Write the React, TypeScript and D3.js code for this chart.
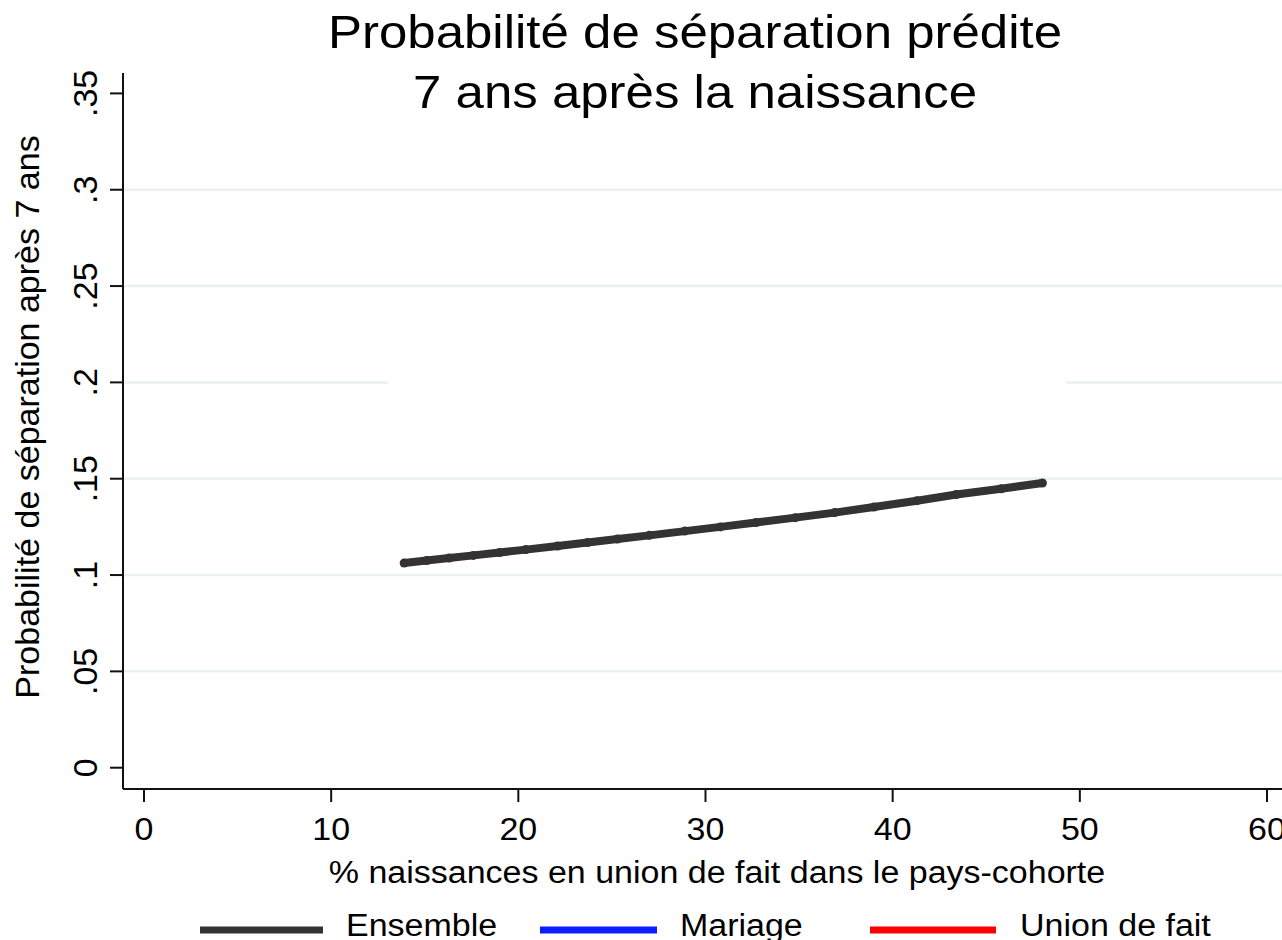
import * as d3 from "d3";
import React from "react";

// predicted probability, "Ensemble" curve
const pctUnion = [13.9, 15.1, 16.3, 17.6, 19.0, 20.4, 22.1, 23.7, 25.3, 27.0, 28.9, 30.8, 32.7, 34.8, 36.9, 39.0, 41.3, 43.4, 45.8, 48.0];
const probEnsemble = [0.1062, 0.1075, 0.1088, 0.1102, 0.1117, 0.1132, 0.1151, 0.1169, 0.1187, 0.1206, 0.1228, 0.125, 0.1273, 0.1298, 0.1324, 0.1353, 0.1386, 0.1418, 0.1448, 0.1478];

const xTicks = [0, 10, 20, 30, 40, 50, 60];
const yTicks = [0, 0.05, 0.1, 0.15, 0.2, 0.25, 0.3, 0.35];
const yTickLabels = ["0", ".05", ".1", ".15", ".2", ".25", ".3", ".35"];
const gridValues = [0.05, 0.1, 0.15, 0.2, 0.25, 0.3];

const legendItems = [
  { label: "Ensemble", color: "#333333" },
  { label: "Mariage", color: "#0a1eff" },
  { label: "Union de fait", color: "#ff0000" },
];

const W = 1282;
const H = 940;
const font = "'Liberation Sans', Arial, sans-serif";

const App = () => {
  const x = d3.scaleLinear().domain([0, 60]).range([144, 1267]);
  const y = d3.scaleLinear().domain([0, 0.35]).range([767.7, 93.4]);

  const left = 123;
  const top = 73;
  const bottom = 789;

  const pts = pctUnion.map((v, i) => [v, probEnsemble[i]] as [number, number]);
  const line = d3.line<[number, number]>()
    .x(d => x(d[0]))
    .y(d => y(d[1]));

  // legend positions
  const legendSamples = [[200, 323, 346], [540, 657, 680], [870, 996, 1020]];

  return (
    <svg width={W} height={H} style={{ position: "absolute", left: 0, top: 0, background: "#fff" }}>
      <rect x={0} y={0} width={W} height={H} fill="#fff" />

      {/* gridlines */}
      {gridValues.map(v => (
        <line key={v} x1={left} x2={W} y1={y(v)} y2={y(v)} stroke="#eaf1f2" strokeWidth={2.5} />
      ))}
      {/* hidden box covering part of .2 gridline */}
      <rect x={388} y={y(0.2) - 3} width={678} height={6} fill="#fff" />

      {/* axes */}
      <line x1={left} x2={left} y1={top} y2={bottom} stroke="#111" strokeWidth={2} />
      <line x1={left} x2={W} y1={bottom} y2={bottom} stroke="#111" strokeWidth={2} />

      {yTicks.map((t, i) => (
        <g key={t}>
          <line x1={left - 13} x2={left} y1={y(t)} y2={y(t)} stroke="#111" strokeWidth={2} />
          <text
            transform={`translate(97,${y(t)}) rotate(-90)`}
            textAnchor="middle"
            fontFamily={font}
            fontSize={34}
            fill="#000"
          >
            {yTickLabels[i]}
          </text>
        </g>
      ))}

      {xTicks.map(t => (
        <g key={t}>
          <line x1={x(t)} x2={x(t)} y1={bottom} y2={bottom + 13} stroke="#111" strokeWidth={2} />
          <text
            transform={`translate(${x(t)},840) scale(1,0.9)`}
            textAnchor="middle"
            fontFamily={font}
            fontSize={34}
            fill="#000"
          >
            {t}
          </text>
        </g>
      ))}

      {/* series */}
      <path d={line(pts) || ""} fill="none" stroke="#333333" strokeWidth={8} strokeLinecap="round" strokeLinejoin="round" />
      {pts.map((d, i) => (
        <circle key={i} cx={x(d[0])} cy={y(d[1])} r={4.5} fill="#333333" />
      ))}

      {/* titles */}
      <text transform="translate(695,48) scale(1,0.9)" textAnchor="middle" fontFamily={font} fontSize={51} fill="#000">
        Probabilité de séparation prédite
      </text>
      <text transform="translate(695,108) scale(1,0.9)" textAnchor="middle" fontFamily={font} fontSize={51} fill="#000">
        7 ans après la naissance
      </text>
      <text transform="translate(39,417) rotate(-90)" textAnchor="middle" fontFamily={font} fontSize={34} fill="#000">
        Probabilité de séparation après 7 ans
      </text>
      <text transform="translate(717,883) scale(1,0.9)" textAnchor="middle" fontFamily={font} fontSize={34} fill="#000">
        % naissances en union de fait dans le pays-cohorte
      </text>

      {/* legend */}
      {legendItems.map((item, i) => (
        <g key={item.label}>
          <line x1={legendSamples[i][0]} x2={legendSamples[i][1]} y1={930} y2={930} stroke={item.color} strokeWidth={7} />
          <text transform={`translate(${legendSamples[i][2]},936) scale(1,0.9)`} fontFamily={font} fontSize={34} fill="#000">
            {item.label}
          </text>
        </g>
      ))}
    </svg>
  );
};

export default App;
